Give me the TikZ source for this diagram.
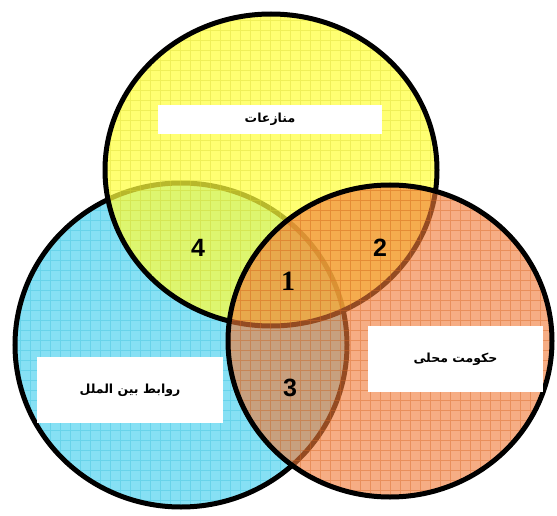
\documentclass[tikz,border=0pt]{standalone}
\usepackage{fontspec}
\TeXXeTstate=1
\newfontfamily\arabicfont[Script=Arabic]{DejaVu Sans}
\newfontfamily\digitfont{Liberation Sans}
\newfontfamily\onefont{Liberation Serif}
\definecolor{setblue}{HTML}{86E0F4}
\definecolor{setyellow}{HTML}{FFFF3C}
\definecolor{setorange}{HTML}{F07A38}
\definecolor{gridblue}{HTML}{3CC0DC}
\definecolor{gridyellow}{HTML}{D8D830}
\definecolor{gridorange}{HTML}{D86420}

\begin{document}
\begin{tikzpicture}[x=1pt, y=-1pt,
    set/.style = {line width=5pt, draw=black},
    gridline/.style = {line width=0.5pt, step=10pt, opacity=0.4},
    labelbox/.style = {fill=white, inner sep=0pt, align=center,
      font=\arabicfont\bfseries\fontsize{12.5}{14}\selectfont},
    region/.style = {inner sep=0pt, font=\digitfont\bfseries\fontsize{25}{25}\selectfont}]
  \useasboundingbox (0,0) rectangle (557,516);
  \coordinate (ir) at (181,345);
  \coordinate (cf) at (271,170);
  \coordinate (lg) at (390,341);
  % international relations
  \fill[setblue] (ir) ellipse [x radius=166, y radius=162];
  \begin{scope}
    \clip (ir) ellipse [x radius=166, y radius=162];
    \draw[gridline, gridblue] (0,0) grid (557,516);
  \end{scope}
  \draw[set] (ir) ellipse [x radius=166, y radius=162];
  % conflicts
  \fill[setyellow, fill opacity=0.72] (cf) ellipse [x radius=166, y radius=156];
  \begin{scope}
    \clip (cf) ellipse [x radius=166, y radius=156];
    \draw[gridline, gridyellow] (0,0) grid (557,516);
  \end{scope}
  \draw[set] (cf) ellipse [x radius=166, y radius=156];
  % local government
  \fill[setorange, fill opacity=0.62] (lg) ellipse [x radius=162, y radius=156];
  \begin{scope}
    \clip (lg) ellipse [x radius=162, y radius=156];
    \draw[gridline, gridorange] (0,0) grid (557,516);
  \end{scope}
  \draw[set] (lg) ellipse [x radius=162, y radius=156];

  \node[labelbox, minimum width=224pt, minimum height=29pt] (conflicts) at (270,119.5)
    {\beginR منازعات\endR};
  \node[labelbox, minimum width=186pt, minimum height=66pt] (intrel) at (130,390)
    {\beginR روابط بین الملل\endR};
  \node[labelbox, minimum width=175pt, minimum height=66pt] (localgov) at (455.5,359)
    {\beginR حکومت محلی\endR};

  \node[region, font=\onefont\bfseries\fontsize{28}{28}\selectfont] (r1) at (288,281) {1};
  \node[region] (r2) at (380,248) {2};
  \node[region] (r3) at (290,388) {3};
  \node[region] (r4) at (198,248) {4};
\end{tikzpicture}
\end{document}
